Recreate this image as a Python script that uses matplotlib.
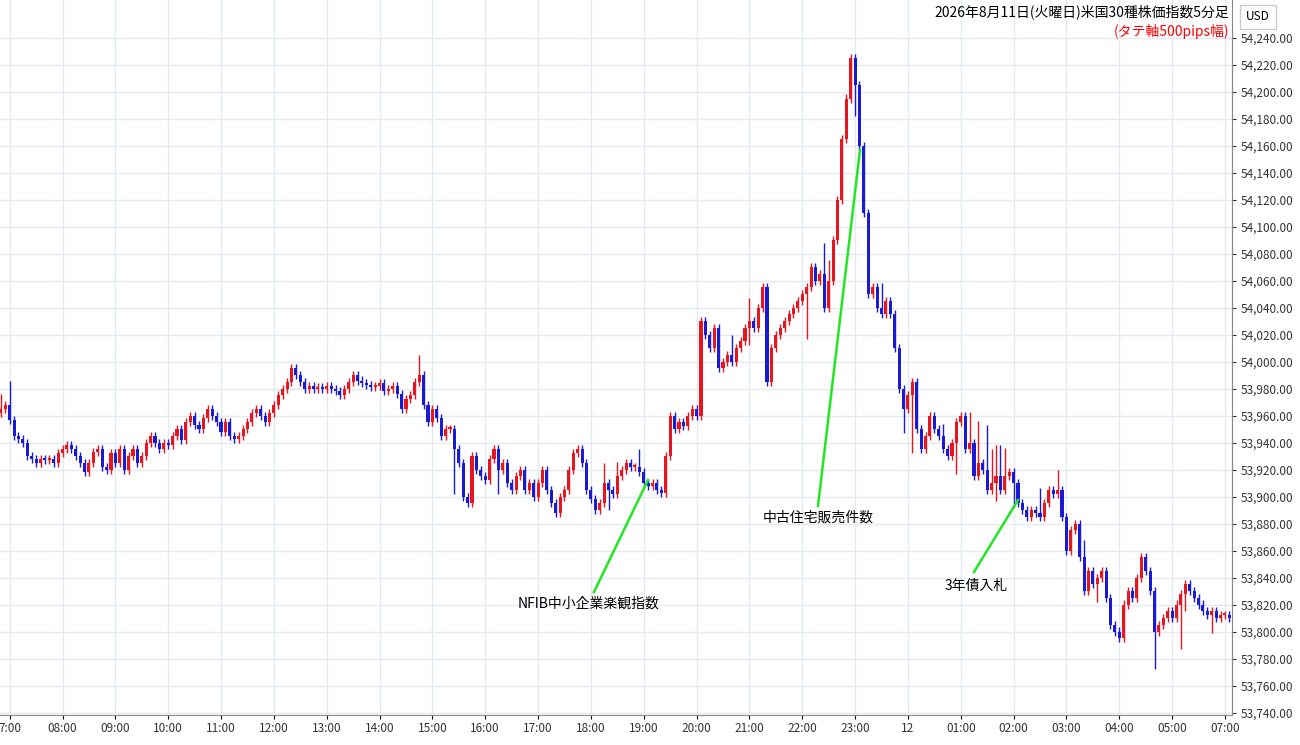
import matplotlib.pyplot as plt
import matplotlib.ticker as mticker
from matplotlib.lines import Line2D
import numpy as np

plt.rcParams['font.family'] = ['Noto Sans CJK JP', 'DejaVu Sans']

# 5-minute closes, 06:50 -> 07:05 next day (06:00-07:00 break skipped)
closes = [
    53965, 53968,
    53957, 53945, 53943, 53940, 53930, 53928, 53925, 53928, 53927, 53928, 53925, 53932,  # 07
    53935, 53938, 53935, 53930, 53925, 53918, 53925, 53933, 53935, 53922, 53920, 53932,  # 08
    53925, 53935, 53920, 53930, 53935, 53925, 53930, 53940, 53945, 53940, 53935, 53940,  # 09
    53938, 53945, 53950, 53942, 53955, 53960, 53953, 53950, 53958, 53965, 53960, 53955,  # 10
    53948, 53955, 53945, 53943, 53945, 53950, 53955, 53962, 53965, 53960, 53955, 53962,  # 11
    53968, 53975, 53980, 53985, 53995, 53990, 53985, 53980, 53982, 53980, 53981, 53980,  # 12
    53982, 53980, 53978, 53975, 53980, 53985, 53990, 53986, 53984, 53983, 53981, 53982,  # 13
    53984, 53978, 53980, 53982, 53976, 53965, 53972, 53975, 53985, 53990, 53968, 53955,  # 14
    53965, 53958, 53945, 53950, 53950, 53935, 53925, 53900, 53895, 53930, 53920, 53915,  # 15
    53912, 53928, 53935, 53920, 53925, 53910, 53905, 53915, 53920, 53905, 53910, 53900,  # 16
    53910, 53920, 53905, 53895, 53888, 53900, 53905, 53920, 53932, 53935, 53925, 53905,  # 17
    53898, 53890, 53895, 53910, 53905, 53902, 53915, 53920, 53925, 53922, 53922, 53918,  # 18
    53910, 53908, 53910, 53905, 53903, 53930, 53960, 53950, 53955, 53952, 53960, 53965,  # 19
    53960, 54030, 54020, 54010, 54025, 53995, 54000, 54005, 54000, 54010, 54015, 54025,  # 20
    54030, 54025, 54040, 54055, 53985, 54010, 54020, 54025, 54030, 54035, 54040, 54045,  # 21
    54050, 54055, 54070, 54060, 54065, 54040, 54060, 54090, 54120, 54165, 54195, 54225,  # 22
    54205, 54160, 54110, 54050, 54055, 54040, 54035, 54045, 54035, 54010, 53980, 53965,  # 23
    53975, 53985, 53950, 53935, 53945, 53960, 53950, 53945, 53935, 53930, 53940, 53955,  # 00
    53960, 53935, 53940, 53915, 53925, 53920, 53905, 53910, 53915, 53905, 53915, 53918,  # 01
    53910, 53895, 53890, 53885, 53890, 53888, 53885, 53895, 53905, 53902, 53905, 53885,  # 02
    53860, 53875, 53880, 53855, 53830, 53845, 53835, 53840, 53845, 53825, 53805, 53800,  # 03
    53795, 53820, 53830, 53825, 53840, 53855, 53845, 53830, 53800, 53805, 53810, 53815,  # 04
    53810, 53820, 53828, 53835, 53830, 53825, 53820, 53815, 53812, 53815, 53810, 53812,  # 05
    53812, 53810,  # 07
]
first_open = 53962
# extra wick beyond the body, mostly small; a few spikes
wick_hi = {0: 8, 2: 15, 95: 12, 137: 12, 140: 8, 145: 10, 166: 12, 170: 14, 187: 20,
           188: 12, 200: 15, 214: 6, 220: 20, 222: 28, 224: 30, 225: 22, 226: 20, 227: 20,
           228: 18, 236: 15, 240: 12, 246: 10}
wick_lo = {103: 30, 113: 15, 138: 12, 170: 10, 183: 30, 194: 20, 205: 15, 207: 40, 217: 20,
           226: 10, 230: 15, 249: 10, 262: 25, 268: 30, 269: 10, 275: 10}

hour_labels = ['7:00', '08:00', '09:00', '10:00', '11:00', '12:00', '13:00', '14:00', '15:00',
               '16:00', '17:00', '18:00', '19:00', '20:00', '21:00', '22:00', '23:00', '12',
               '01:00', '02:00', '03:00', '04:00', '05:00', '07:00']

c = np.array(closes, dtype=float)
o = np.concatenate([[first_open], c[:-1]])
n = len(c)
hi = np.maximum(o, c) + 3
lo = np.minimum(o, c) - 3
for k, v in wick_hi.items():
    hi[k] += v
for k, v in wick_lo.items():
    lo[k] -= v

red, blue = '#e8141e', '#1a1ad6'
cols = [red if cc >= oo else blue for oo, cc in zip(o, c)]
x = np.arange(n)

fig = plt.figure(figsize=(13, 7.45), dpi=100)
ax = fig.add_axes([0, 0.04, 1232 / 1300, 0.96])
ax.vlines(x, lo, hi, colors=cols, linewidth=1)
body = np.abs(c - o)
body[body < 1.5] = 1.5
ax.bar(x, body, bottom=np.minimum(o, c), width=0.7, color=cols, linewidth=0)

ax.set_xlim(-0.2, 279.6)
ax.set_ylim(53738, 54268)
ticks = [2 + 12 * i for i in range(23)] + [278]
ax.set_xticks(ticks)
ax.set_xticklabels(hour_labels, fontsize=8.5, color='#333333')
ax.yaxis.tick_right()
ax.set_yticks(np.arange(53740, 54241, 20))
ax.yaxis.set_major_formatter(mticker.FuncFormatter(lambda v, p: f'{v:,.2f}'))
ax.tick_params(axis='y', labelsize=8.5, colors='#333333', length=3)
ax.tick_params(axis='x', length=3, pad=2)
ax.grid(True, color='#e3eaf2', linewidth=1)
ax.set_axisbelow(True)
for s in ['top', 'left']:
    ax.spines[s].set_visible(False)
ax.spines['right'].set_color('#888888')
ax.spines['bottom'].set_color('#888888')

ax.text(0.998, 0.994, '2026年8月11日(火曜日)米国30種株価指数5分足', transform=ax.transAxes,
        ha='right', va='top', fontsize=10, color='black')
ax.text(0.998, 0.967, '(タテ軸500pips幅)', transform=ax.transAxes,
        ha='right', va='top', fontsize=10, color='red')
fig.text(1246 / 1300, 1 - 17 / 745, 'USD', ha='left', va='center', fontsize=8.5,
         bbox=dict(boxstyle='square,pad=0.5', fc='white', ec='#cccccc'))

def note(x0, y0, x1, y1, tx, ty, label):
    fig.add_artist(Line2D([x0 / 1300, x1 / 1300], [1 - y0 / 745, 1 - y1 / 745],
                          color='#22e622', linewidth=1.8))
    fig.text(tx / 1300, 1 - ty / 745, label, ha='center', va='center', fontsize=10)

note(594, 592, 648, 480, 589, 604, 'NFIB中小企業楽観指数')
note(818, 506, 860, 150, 818, 518, '中古住宅販売件数')
note(974, 572, 1018, 500, 976, 586, '3年債入札')

fig.savefig('out.png', dpi=100)
